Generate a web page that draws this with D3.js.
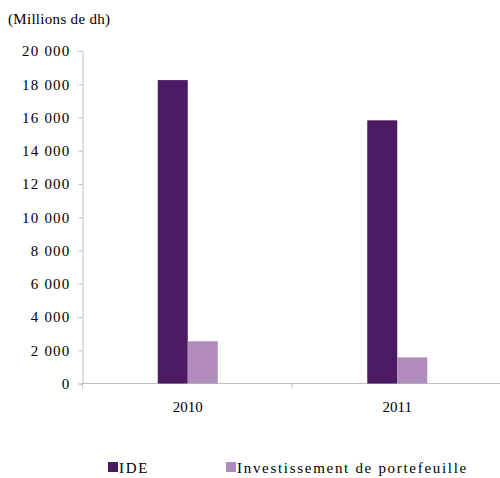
<!DOCTYPE html>
<html>
<head>
<meta charset="utf-8">
<script src="https://cdn.jsdelivr.net/npm/d3@7"></script>
<style>
  body { margin: 0; background: #fff; }
  #chart text { font-family: "Liberation Serif", "Times New Roman", Tinos !important; font-size: 15px; fill: #000; }
  #chart .ylab { letter-spacing: 1.2px; }
  #chart .unit { letter-spacing: 0.3px; }
  #chart .legtxt { letter-spacing: 1.7px; }
</style>
</head>
<body>
<svg id="chart" width="500" height="478"></svg>
<script>
// Flows of investment, in millions of dirhams
const years = ["2010", "2011"];
const seriesNames = ["IDE", "Investissement de portefeuille"];
const ideValues = [18250, 15830];
const portfolioValues = [2540, 1570];
const yTicks = [0, 2000, 4000, 6000, 8000, 10000, 12000, 14000, 16000, 18000, 20000];
const colors = ["#4b1a62", "#b08bbb"];

const svg = d3.select("#chart");
const W = 500, H = 478;
const plotLeft = 83, plotTop = 51, baseY = 383.5;

const x = d3.scaleBand().domain(years).range([plotLeft, plotLeft + 419]);
const inner = d3.scaleBand().domain(seriesNames).range([0, 60]);
const y = d3.scaleLinear().domain([0, 20000]).range([baseY, plotTop]);

const fmt = v => d3.format(",")(v).replace(/,/g, " ");

// Y axis
const yAxis = d3.axisLeft(y).tickValues(yTicks).tickFormat(fmt).tickSize(4).tickPadding(8);
const gy = svg.append("g").attr("transform", `translate(${plotLeft - 0.5},0)`).call(yAxis);
gy.attr("font-family", "Liberation Serif").attr("font-size", 15);
gy.select(".domain").attr("stroke", "#bfbfbf");
gy.selectAll(".tick line").attr("stroke", "#bfbfbf");
gy.selectAll(".tick text").attr("class", "ylab").attr("fill", "#000");

// X axis with separator ticks between categories
const gx = svg.append("g").attr("transform", `translate(0,${baseY})`);
gx.append("line").attr("x1", plotLeft - 0.5).attr("x2", W).attr("stroke", "#bfbfbf");
const bounds = [0, 1, 2].map(i => plotLeft - 0.5 + i * x.step());
gx.selectAll("line.sep").data(bounds).join("line").attr("class", "sep")
  .attr("x1", d => d).attr("x2", d => d).attr("y1", 0).attr("y2", 5).attr("stroke", "#bfbfbf");
gx.selectAll("text").data(years).join("text")
  .attr("x", d => x(d) + x.bandwidth() / 2)
  .attr("y", 28)
  .attr("text-anchor", "middle")
  .text(d => d);

// Bars
const rows = years.map((yr, i) => ({ year: yr, vals: [ideValues[i], portfolioValues[i]] }));
const groups = svg.selectAll("g.grp").data(rows).join("g").attr("class", "grp")
  .attr("transform", d => `translate(${x(d.year) + x.bandwidth() / 2 - 30},0)`);
groups.selectAll("rect").data(d => d.vals.map((v, k) => ({ name: seriesNames[k], v, k })))
  .join("rect")
  .attr("x", d => inner(d.name))
  .attr("width", inner.bandwidth())
  .attr("y", d => y(d.v))
  .attr("height", d => y(0) - y(d.v))
  .attr("fill", d => colors[d.k]);

// Unit label
svg.append("text").attr("class", "unit").attr("x", 8).attr("y", 24).text("(Millions de dh)");

// Legend
const legendX = [108, 226];
const lg = svg.selectAll("g.leg").data(seriesNames).join("g").attr("class", "leg")
  .attr("transform", (d, i) => `translate(${legendX[i]},462)`);
lg.append("rect").attr("width", 10).attr("height", 10).attr("fill", (d, i) => colors[i]);
lg.append("text").attr("class", "legtxt").attr("x", 11).attr("y", 11).text(d => d);
</script>
</body>
</html>
